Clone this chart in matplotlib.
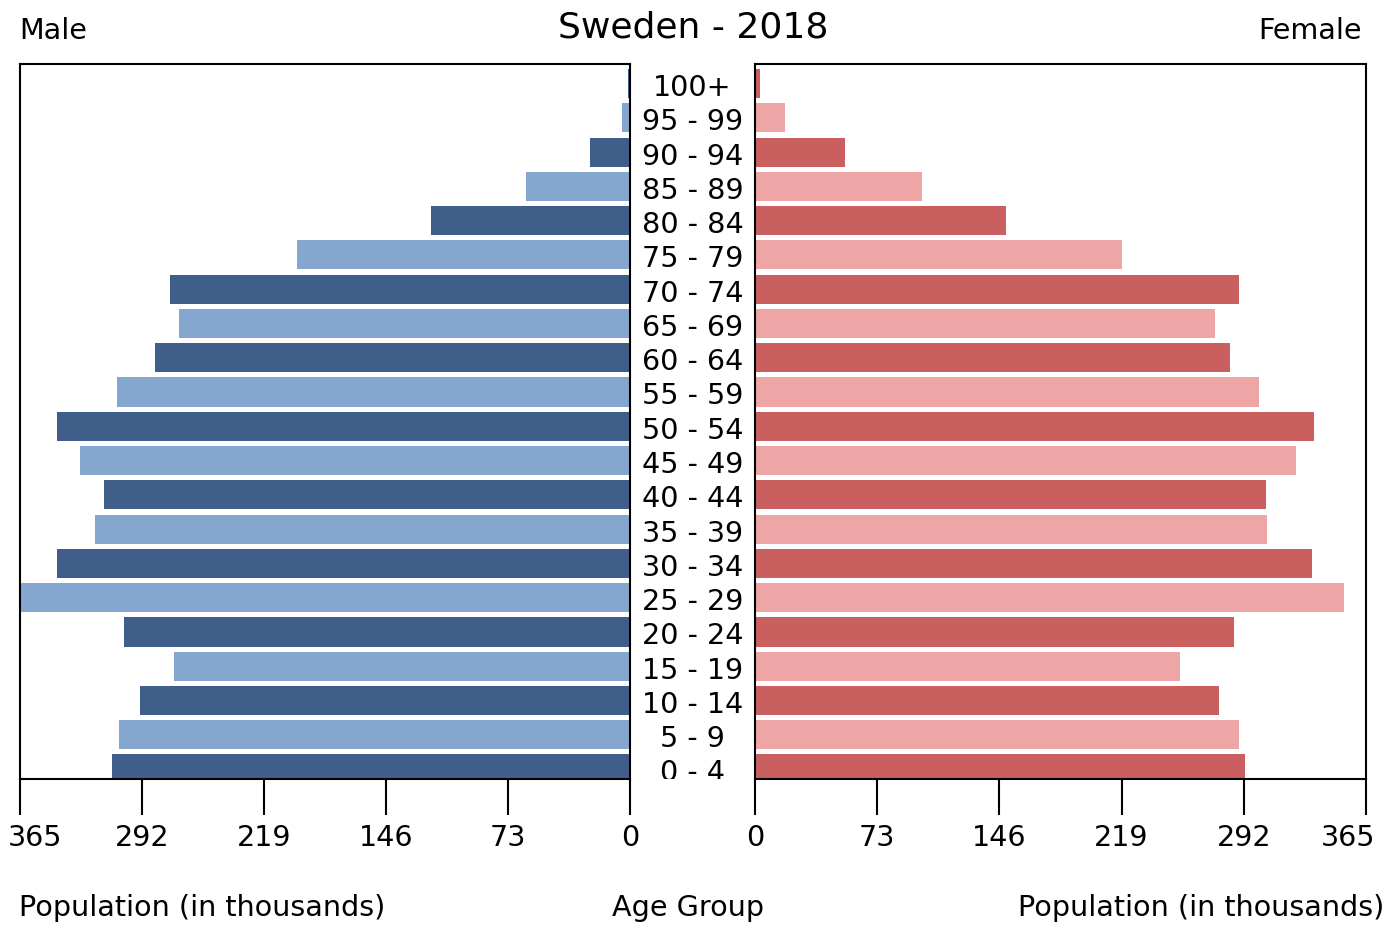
import numpy as np
import matplotlib
matplotlib.use("Agg")
import matplotlib.pyplot as plt

# Sweden 2018 population pyramid (thousands), youngest group first
age_groups = ["0 - 4", "5 - 9", "10 - 14", "15 - 19", "20 - 24", "25 - 29",
              "30 - 34", "35 - 39", "40 - 44", "45 - 49", "50 - 54", "55 - 59",
              "60 - 64", "65 - 69", "70 - 74", "75 - 79", "80 - 84", "85 - 89",
              "90 - 94", "95 - 99", "100+"]
male = [310, 306, 293, 273, 303, 370, 343, 320, 315, 329, 343, 307,
        284, 270, 275, 199, 119, 62, 24, 5, 1]
female = [293, 289, 277, 254, 286, 352, 333, 306, 305, 323, 334, 301,
          284, 275, 289, 219, 150, 100, 54, 18, 3]
ticks = [0, 73, 146, 219, 292, 365]

male_colors = ["#3f5f8a", "#84a6cf"]
female_colors = ["#c95f5f", "#eea5a5"]

plt.rcParams['font.family'] = ['DejaVu Sans']
fs = 20.6

fig = plt.figure(figsize=(13.9, 9.28), dpi=100)
bottom = 1 - 780 / 928
height = (780 - 65) / 928
ax_l = fig.add_axes([20 / 1390, bottom, 610 / 1390, height])
ax_r = fig.add_axes([755 / 1390, bottom, 611 / 1390, height])
ax_m = fig.add_axes([630 / 1390, bottom, 125 / 1390, height])

y = np.arange(len(age_groups))
ylim = (-0.29, 20.57)

ax_l.barh(y, male, height=0.85, color=[male_colors[i % 2] for i in y])
ax_r.barh(y, female, height=0.85, color=[female_colors[i % 2] for i in y])

ax_l.set_xlim(365, 0)
ax_r.set_xlim(0, 365)
for ax in (ax_l, ax_r):
    ax.set_ylim(*ylim)
    ax.set_yticks([])
    ax.set_xticks(ticks)
    # end label drawn separately so it stays inside the figure
    ax.set_xticklabels([str(t) for t in ticks[:-1]] + [""])
    ax.tick_params(axis='x', direction='out', length=26, width=1.5,
                   labelsize=fs, pad=6)
    for s in ax.spines.values():
        s.set_linewidth(1.5)

label_top = 1 - (780 + 32 / 72 * 100) / 928
fig.text(35 / 1390, label_top, "365", ha='center', va='top', fontsize=fs)
fig.text(1348 / 1390, label_top, "365", ha='center', va='top', fontsize=fs)

ax_m.set_ylim(*ylim)
ax_m.set_xlim(0, 1)
ax_m.axis('off')
for i, lab in enumerate(age_groups):
    ax_m.text(0.5, i - 0.1, lab, ha='center', va='center', fontsize=fs, clip_on=True)

fig.text(693 / 1390, 1 - 27 / 928, "Sweden - 2018", ha='center', va='center', fontsize=26)
fig.text(19 / 1390, 1 - 31 / 928, "Male", ha='left', va='center', fontsize=fs)
fig.text(1362 / 1390, 1 - 31 / 928, "Female", ha='right', va='center', fontsize=fs)
fig.text(19 / 1390, 1 - 908 / 928, "Population (in thousands)", ha='left', va='center', fontsize=fs)
fig.text(688 / 1390, 1 - 908 / 928, "Age Group", ha='center', va='center', fontsize=fs)
fig.text(1384 / 1390, 1 - 908 / 928, "Population (in thousands)", ha='right', va='center', fontsize=fs)

fig.savefig("out.png", dpi=100)
